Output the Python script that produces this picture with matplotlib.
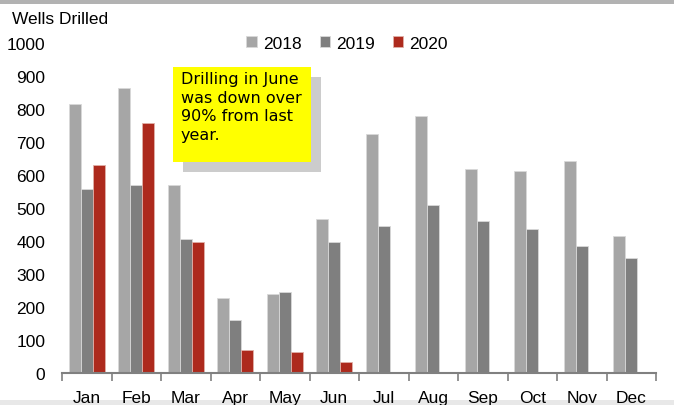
import numpy as np
import matplotlib.pyplot as plt
from matplotlib.patches import Rectangle

months = ["Jan", "Feb", "Mar", "Apr", "May", "Jun",
          "Jul", "Aug", "Sep", "Oct", "Nov", "Dec"]
wells_2018 = [815, 865, 570, 227, 240, 467, 725, 780, 618, 612, 642, 414]
wells_2019 = [558, 570, 407, 161, 244, 396, 444, 509, 462, 437, 384, 348]
wells_2020 = [630, 757, 396, 70, 64, 33]
yticks = [0, 100, 200, 300, 400, 500, 600, 700, 800, 900, 1000]

plt.rcParams['font.family'] = ['Liberation Sans', 'DejaVu Sans']

fig = plt.figure(figsize=(6.74, 4.06), dpi=100)
ax = fig.add_axes([62 / 674, 32 / 406, 594 / 674, 330 / 406])

x = np.arange(len(months))
w = 0.24
ax.bar(x - w, wells_2018, w, color="#a6a6a6", edgecolor="#d9d9d9", linewidth=0.6, label="2018")
ax.bar(x, wells_2019, w, color="#7f7f7f", edgecolor="#d9d9d9", linewidth=0.6, label="2019")
ax.bar(x[:len(wells_2020)] + w, wells_2020, w, color="#ad2a1d", edgecolor="#e0b0a8",
       linewidth=0.6, label="2020")

ax.set_xlim(-0.5, len(months) - 0.5)
ax.set_ylim(0, 1000)
ax.set_yticks(yticks)
ax.set_yticklabels([str(v) for v in yticks], fontsize=12.5)
ax.tick_params(axis="y", length=0, pad=12)

# month labels centred, tick marks on the category boundaries
ax.set_xticks(x)
ax.set_xticklabels(months, fontsize=12.5)
ax.tick_params(axis="x", which="major", length=0, pad=12)
ax.set_xticks(np.arange(-0.5, len(months), 1), minor=True)
ax.tick_params(axis="x", which="minor", length=6, color="#808080", width=1.2)

for s in ["top", "right", "left"]:
    ax.spines[s].set_visible(False)
ax.spines["bottom"].set_color("#808080")
ax.spines["bottom"].set_linewidth(1.5)

fig.text(12 / 674, 1 - 20 / 406, "Wells Drilled", fontsize=12.5, va="center", ha="left")

ax.legend(loc="upper center", bbox_to_anchor=(0.48, 1.07), ncol=3, frameon=False,
          fontsize=12.5, handlelength=0.6, handleheight=0.6, handletextpad=0.35,
          columnspacing=1.05)

# note box with drop shadow
fig.patches.append(Rectangle((183 / 674, 1 - 173 / 406), 138 / 674, 95 / 406,
                             transform=fig.transFigure, facecolor="#cccccc",
                             edgecolor="none", zorder=5))
fig.patches.append(Rectangle((173 / 674, 1 - 163 / 406), 138 / 674, 95 / 406,
                             transform=fig.transFigure, facecolor="#ffff00",
                             edgecolor="none", zorder=6))
fig.text(181 / 674, 1 - 72 / 406,
         "Drilling in June\nwas down over\n90% from last\nyear.",
         fontsize=11.5, family=["DejaVu Sans"], va="top", ha="left",
         linespacing=1.3, zorder=7)

# frame bands at top and bottom, kept behind the month labels
fig.patches.append(Rectangle((0, 1 - 4.5 / 406), 1, 4.5 / 406, transform=fig.transFigure,
                             facecolor="#b2b2b2", edgecolor="none", zorder=-1))
fig.patches.append(Rectangle((0, 0), 1, 5.5 / 406, transform=fig.transFigure,
                             facecolor="#e8e8e8", edgecolor="none", zorder=-1))

fig.savefig("out.png", dpi=100)
